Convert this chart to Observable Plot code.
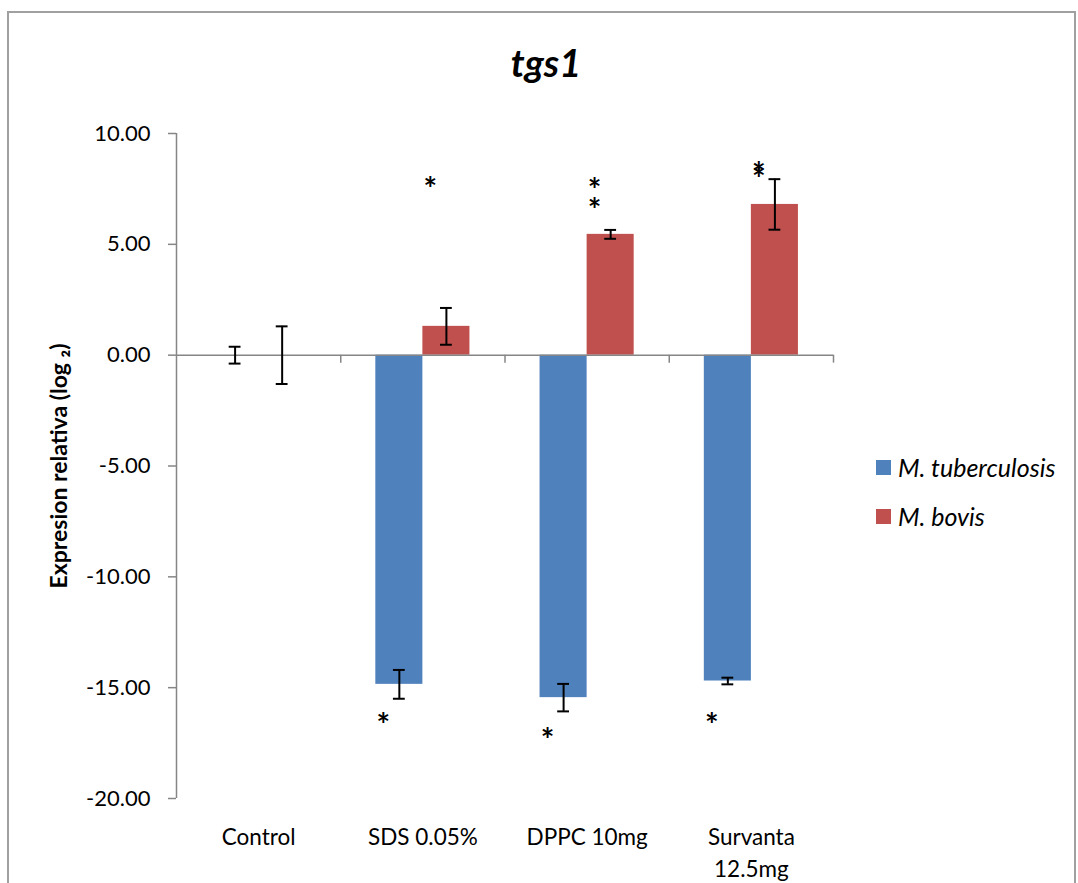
<!DOCTYPE html>
<html>
<head>
<meta charset="utf-8">
<script src="https://cdn.jsdelivr.net/npm/d3@7"></script>
<script src="https://cdn.jsdelivr.net/npm/@observablehq/plot@0.6"></script>
<style>
  html, body { margin: 0; padding: 0; background: #fff; overflow: hidden; }
  body { width: 1078px; height: 883px; position: relative; font-family: Lato, "Open Sans", sans-serif; }
  #border { position: absolute; left: 7px; top: 11px; width: 1069px; height: 940px; border: 2px solid #a0a0a0; box-sizing: border-box; }
  #chart { position: absolute; left: 0; top: 0; }
  #title { position: absolute; left: 0; width: 1092px; top: 40px; text-align: center; font-weight: bold; font-style: italic; font-size: 38px; line-height: 44px; }
  #legend { position: absolute; left: 876px; top: 452px; font-size: 25px; font-style: italic; }
  .li { display: flex; align-items: center; height: 30px; margin-bottom: 19px; }
  .sw { width: 15px; height: 15px; margin-right: 7px; }
</style>
</head>
<body>
<div id="border"></div>
<div id="chart"></div>
<div id="title">tgs1</div>
<div id="legend"></div>
<script>
// ---- data ----
const categories = ["Control", "SDS 0.05%", "DPPC 10mg", "Survanta 12.5mg"];
const tickLabels = ["Control", "SDS 0.05%", "DPPC 10mg", "Survanta\n12.5mg"];
const seriesNames = ["M. tuberculosis", "M. bovis"];
const seriesColors = ["#4F81BD", "#C0504D"];
const tbValues = [0, -14.85, -15.45, -14.7];
const tbErrors = [0.38, 0.65, 0.62, 0.15];
const bovisValues = [0, 1.3, 5.45, 6.8];
const bovisErrors = [1.3, 0.83, 0.2, 1.14];
// significance asterisks (y position in chart units)
const tbStars = [[], [-16.36], [-17.04], [-16.36]];
const bovisStars = [[], [7.82], [7.8, 6.87], [8.52, 8.27]];
const yTicks = [-20, -15, -10, -5, 0, 5, 10];
const yLabel = "Expresion relativa (log \u2082)";

// ---- table ----
const barW = 0.2865; // fraction of category band
const rows = [];
categories.forEach((c, i) => {
  rows.push({cat: c, i, series: seriesNames[0], value: tbValues[i], err: tbErrors[i], side: -1});
  rows.push({cat: c, i, series: seriesNames[1], value: bovisValues[i], err: bovisErrors[i], side: 1});
});
const stars = [];
categories.forEach((c, i) => {
  tbStars[i].forEach(v => stars.push({i, side: -1, y: v}));
  bovisStars[i].forEach(v => stars.push({i, side: 1, y: v}));
});
const center = d => d.i + 0.5 + d.side * barW / 2;
const cap = 0.036;

const axisGray = "#868686";

const plot = Plot.plot({
  width: 1078,
  height: 883,
  marginLeft: 176,
  marginRight: 245,
  marginTop: 133,
  marginBottom: 85,
  style: {fontFamily: "Lato, 'Open Sans', sans-serif", fontSize: "22px", color: "black", background: "transparent"},
  x: {domain: [0, categories.length], axis: null},
  y: {domain: [-20, 10], axis: null},
  color: {domain: seriesNames, range: seriesColors},
  marks: [
    Plot.rectY(rows, {
      x1: d => d.side < 0 ? d.i + 0.5 - barW : d.i + 0.5,
      x2: d => d.side < 0 ? d.i + 0.5 : d.i + 0.5 + barW,
      y1: 0, y2: "value", fill: "series"
    }),
    Plot.ruleY([0], {stroke: axisGray, strokeWidth: 1.5}),
    Plot.ruleX(d3.range(1, categories.length + 1), {y1: 0, y2: -0.36, stroke: axisGray, strokeWidth: 1.5}),
    Plot.ruleX([0], {y1: -20, y2: 10, stroke: axisGray, strokeWidth: 1.5}),
    Plot.axisY({ticks: yTicks, tickFormat: d => d.toFixed(2), tickSize: 8, tickPadding: 18, stroke: axisGray, strokeWidth: 1.5, fontSize: 22, label: null}),
    Plot.text([yLabel], {frameAnchor: "left", textAnchor: "middle", rotate: -90, dx: -117, fontWeight: "bold", fontSize: 23, text: d => d}),
    Plot.text(tickLabels, {x: (d, i) => i + 0.5, frameAnchor: "bottom", lineAnchor: "top", dy: 24, lineHeight: 1.42, fontSize: 22.5, text: d => d}),
    // error bars
    Plot.ruleX(rows, {x: center, y1: d => d.value - d.err, y2: d => d.value + d.err, stroke: "black", strokeWidth: 2}),
    Plot.ruleY(rows, {y: d => d.value - d.err, x1: d => center(d) - cap, x2: d => center(d) + cap, stroke: "black", strokeWidth: 2}),
    Plot.ruleY(rows, {y: d => d.value + d.err, x1: d => center(d) - cap, x2: d => center(d) + cap, stroke: "black", strokeWidth: 2}),
    // asterisks
    Plot.text(stars, {x: center, y: "y", text: () => "*", dx: -16, dy: 9, fontSize: 32, fontWeight: "bold"})
  ]
});
document.getElementById("chart").appendChild(plot);

const legend = document.getElementById("legend");
seriesNames.forEach((s, k) => {
  const row = document.createElement("div");
  row.className = "li";
  const sw = document.createElement("div");
  sw.className = "sw";
  sw.style.background = seriesColors[k];
  const t = document.createElement("span");
  t.textContent = s;
  row.appendChild(sw); row.appendChild(t);
  legend.appendChild(row);
});
</script>
</body>
</html>
